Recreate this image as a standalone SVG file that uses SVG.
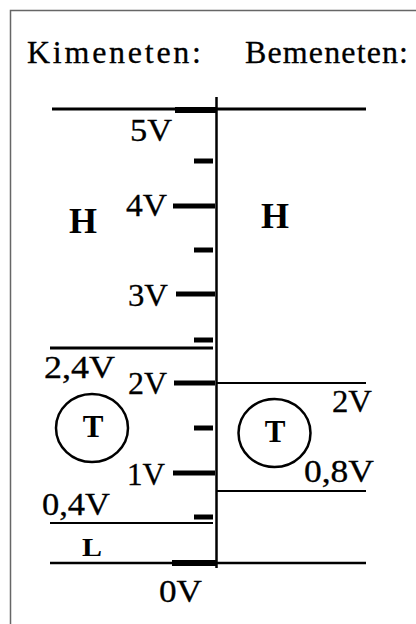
<svg xmlns="http://www.w3.org/2000/svg" width="416" height="624" viewBox="0 0 416 624">
<style>
text{font-family:'Liberation Serif','Times New Roman',Tinos,'DejaVu Serif',serif;fill:#000;stroke:#000;stroke-width:0.3}
.lbl{font-size:32px}
.b{font-weight:bold;stroke-width:0}
.ln{stroke:#000;fill:none}
.maj{stroke:#000;stroke-width:5}
.min{stroke:#000;stroke-width:5}
</style>
<rect width="416" height="624" fill="#fff"/>
<path d="M10.5 624 V10.5 H416" fill="none" stroke="#666" stroke-width="1.5"/>
<g id="title">
<text x="27" y="63" font-size="32" textLength="174">Kimeneten:</text>
<text x="245" y="63" font-size="32" textLength="163">Bemeneten:</text>
</g>
<g id="connectors">
<line class="ln" x1="216.5" y1="97" x2="216.5" y2="568" stroke-width="2.5"/>
<line class="ln" x1="52" y1="109" x2="366" y2="109" stroke-width="3"/>
<line class="ln" x1="175" y1="110" x2="216" y2="110" stroke-width="6"/>
<line class="ln" x1="50" y1="563" x2="366" y2="563" stroke-width="2.5"/>
<line class="ln" x1="172" y1="563" x2="216" y2="563" stroke-width="6"/>
<line class="ln" x1="50" y1="348" x2="213" y2="348" stroke-width="3"/>
<line class="ln" x1="216" y1="383" x2="366" y2="383" stroke-width="2"/>
<line class="ln" x1="216" y1="491" x2="366" y2="491" stroke-width="2"/>
<line class="ln" x1="50" y1="523" x2="213" y2="523" stroke-width="2"/>
<line class="maj" x1="173" y1="206" x2="215" y2="206"/>
<line class="maj" x1="176" y1="294" x2="215" y2="294"/>
<line class="maj" x1="174" y1="383" x2="215" y2="383"/>
<line class="maj" x1="173" y1="473" x2="215" y2="473"/>
<line class="min" x1="194" y1="161" x2="213" y2="161"/>
<line class="min" x1="194" y1="250" x2="213" y2="250"/>
<line class="min" x1="194" y1="340" x2="213" y2="340"/>
<line class="min" x1="194" y1="428" x2="213" y2="428"/>
<line class="min" x1="194" y1="517" x2="213" y2="517"/>
</g>
<g id="scale-labels">
<text class="lbl" x="130" y="141" textLength="42" lengthAdjust="spacingAndGlyphs">5V</text>
<text class="lbl" x="126" y="216" textLength="41" lengthAdjust="spacingAndGlyphs">4V</text>
<text class="lbl" x="128" y="306" textLength="40" lengthAdjust="spacingAndGlyphs">3V</text>
<text class="lbl" x="128" y="394" textLength="39" lengthAdjust="spacingAndGlyphs">2V</text>
<text class="lbl" x="127" y="485" textLength="38" lengthAdjust="spacingAndGlyphs">1V</text>
<text class="lbl" x="159" y="602" textLength="43" lengthAdjust="spacingAndGlyphs">0V</text>
</g>
<g id="threshold-labels">
<text class="lbl" x="44" y="378" textLength="71" lengthAdjust="spacingAndGlyphs">2,4V</text>
<text class="lbl" x="42" y="515" textLength="68" lengthAdjust="spacingAndGlyphs">0,4V</text>
<text class="lbl" x="332" y="412" textLength="40" lengthAdjust="spacingAndGlyphs">2V</text>
<text class="lbl" x="304" y="482" textLength="70" lengthAdjust="spacingAndGlyphs">0,8V</text>
</g>
<g id="H-out">
<text class="b" x="83" y="233" font-size="36" text-anchor="middle">H</text>
</g>
<g id="H-in">
<text class="b" x="275" y="228" font-size="36" text-anchor="middle">H</text>
</g>
<g id="T-out">
<ellipse cx="92" cy="428" rx="36" ry="34" class="ln" stroke-width="2.5"/>
<text class="b" x="93" y="437" font-size="31" text-anchor="middle">T</text>
</g>
<g id="T-in">
<ellipse cx="274.5" cy="433" rx="36" ry="34" class="ln" stroke-width="2.5"/>
<text class="b" x="275" y="442" font-size="31" text-anchor="middle">T</text>
</g>
<g id="L-out">
<text class="b" x="82" y="556" font-size="26" textLength="20" lengthAdjust="spacingAndGlyphs">L</text>
</g>
</svg>
